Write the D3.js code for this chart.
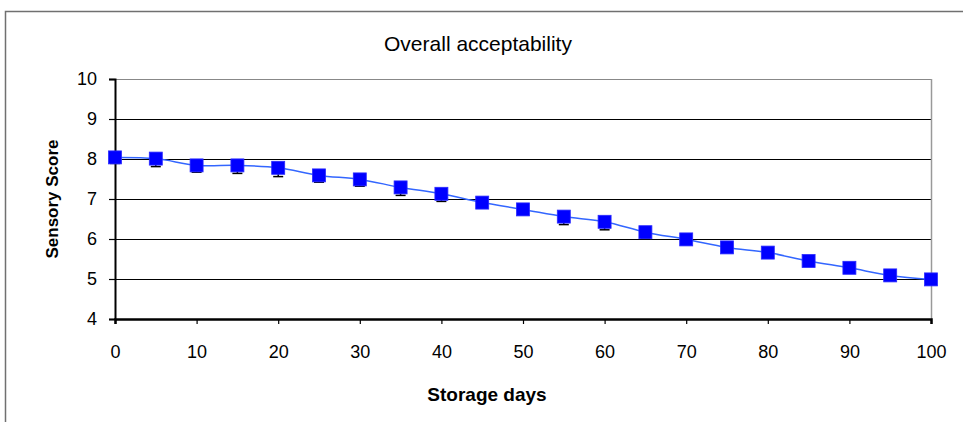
<!DOCTYPE html>
<html>
<head>
<meta charset="utf-8">
<script src="https://cdn.jsdelivr.net/npm/d3@7"></script>
<style>
  html, body { margin: 0; padding: 0; background: #fff; }
  svg { display: block; font-family: Arial, "Liberation Sans", sans-serif; }
</style>
</head>
<body>
<svg id="chart" width="963" height="422"></svg>
<script>
// Storage days sampled every 5 days
const days = [0, 5, 10, 15, 20, 25, 30, 35, 40, 45, 50, 55, 60, 65, 70, 75, 80, 85, 90, 95, 100];
// Mean overall acceptability score
const scores = [8.04, 8.01, 7.84, 7.84, 7.78, 7.59, 7.49, 7.29, 7.13, 6.91, 6.74, 6.56, 6.43, 6.17, 5.99, 5.79, 5.66, 5.45, 5.28, 5.09, 4.99];
// Standard deviation (lower error bar)
const errors = [0.15, 0.2, 0.17, 0.2, 0.22, 0.17, 0.17, 0.2, 0.19, 0.12, 0.12, 0.2, 0.2, 0.15, 0.1, 0.12, 0.12, 0.12, 0.12, 0.1, 0.1];
const xTicks = [0, 10, 20, 30, 40, 50, 60, 70, 80, 90, 100];
const yTicks = [4, 5, 6, 7, 8, 9, 10];

const FONT = "Arial, 'Liberation Sans', sans-serif";
const svg = d3.select("#chart");

// outer chart frame
svg.append("rect")
  .attr("x", 5.5).attr("y", 11.5)
  .attr("width", 1000).attr("height", 500)
  .attr("fill", "none").attr("stroke", "#707070").attr("stroke-width", 1.5);

const x = d3.scaleLinear().domain([0, 100]).range([115, 931]);
const y = d3.scaleLinear().domain([4, 10]).range([319, 79]);

// horizontal gridlines
svg.append("g")
  .selectAll("line")
  .data(yTicks.slice(1))
  .join("line")
  .attr("x1", x(0)).attr("x2", x(100))
  .attr("y1", d => Math.round(y(d)) + 0.5).attr("y2", d => Math.round(y(d)) + 0.5)
  .attr("stroke", d => d === 10 ? "#888" : "#000")
  .attr("stroke-width", 1.2);

// plot area right border
svg.append("line")
  .attr("x1", x(100) + 0.5).attr("x2", x(100) + 0.5)
  .attr("y1", y(10)).attr("y2", y(4))
  .attr("stroke", "#999").attr("stroke-width", 1.5);

// y axis
const yAxis = svg.append("g")
  .attr("transform", `translate(${x(0)},0)`)
  .call(d3.axisLeft(y).tickValues(yTicks).tickSize(6).tickPadding(12).tickFormat(d3.format("d")));
yAxis.select(".domain").attr("stroke", "#000").attr("stroke-width", 2);
yAxis.selectAll(".tick line").attr("stroke", "#000").attr("stroke-width", 1.2);
yAxis.selectAll(".tick text").attr("font-size", 18).attr("font-family", FONT).attr("fill", "#000");

// x axis
const xAxis = svg.append("g")
  .attr("transform", `translate(0,${y(4)})`)
  .call(d3.axisBottom(x).tickValues(xTicks).tickSize(5).tickPadding(21).tickFormat(d3.format("d")));
xAxis.select(".domain").attr("stroke", "#000").attr("stroke-width", 2.5);
xAxis.selectAll(".tick line").attr("stroke", "#000").attr("stroke-width", 1.2);
xAxis.selectAll(".tick text").attr("font-size", 18).attr("font-family", FONT).attr("fill", "#000");

const data = days.map((d, i) => ({ day: d, score: scores[i], err: errors[i] }));

// lower error bars
const eb = svg.append("g").attr("stroke", "#000").attr("stroke-width", 1.5);
eb.selectAll("line.v").data(data).join("line").attr("class", "v")
  .attr("x1", d => x(d.day)).attr("x2", d => x(d.day))
  .attr("y1", d => y(d.score)).attr("y2", d => y(d.score - d.err));
eb.selectAll("line.c").data(data).join("line").attr("class", "c")
  .attr("x1", d => x(d.day) - 5).attr("x2", d => x(d.day) + 5)
  .attr("y1", d => y(d.score - d.err)).attr("y2", d => y(d.score - d.err));

// smoothed trend line
svg.append("path")
  .datum(data)
  .attr("fill", "none")
  .attr("stroke", "#3366ff")
  .attr("stroke-width", 1.5)
  .attr("d", d3.line().x(d => x(d.day)).y(d => y(d.score)).curve(d3.curveCatmullRom.alpha(0.5)));

// square markers
const ms = 13;
svg.append("g")
  .selectAll("rect")
  .data(data)
  .join("rect")
  .attr("x", d => x(d.day) - ms / 2).attr("y", d => y(d.score) - ms / 2)
  .attr("width", ms).attr("height", ms)
  .attr("fill", "#0000ff").attr("stroke", "#2a2aff").attr("stroke-width", 0.8);

// titles
svg.append("text")
  .attr("x", 478).attr("y", 51)
  .attr("text-anchor", "middle").attr("font-size", 21)
  .text("Overall acceptability");

svg.append("text")
  .attr("x", 487).attr("y", 401)
  .attr("text-anchor", "middle").attr("font-size", 19).attr("font-weight", "bold")
  .text("Storage days");

svg.append("text")
  .attr("transform", `translate(58,199) rotate(-90)`)
  .attr("text-anchor", "middle").attr("font-size", 17).attr("font-weight", "bold")
  .text("Sensory Score");
</script>
</body>
</html>
